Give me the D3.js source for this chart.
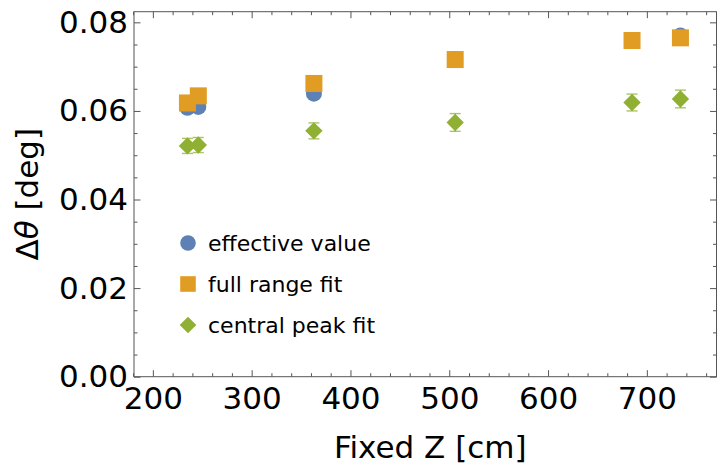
<!DOCTYPE html>
<html>
<head>
<meta charset="utf-8">
<script src="https://cdn.jsdelivr.net/npm/d3@7"></script>
<style>
  body { margin: 0; background: #fff; }
  text { font-family: "DejaVu Sans", sans-serif; }
</style>
</head>
<body>
<svg id="chart" width="717" height="470"></svg>
<script>
// fixed Z positions [cm]
var zValues = [235, 246, 363, 506, 685, 734];

// delta theta [deg] per method
var effectiveValue = [0.0607, 0.0609, 0.0639, 0.0717, 0.0760, 0.0770];
var fullRangeFit   = [0.0618, 0.0634, 0.0662, 0.0716, 0.0759, 0.0765];
var centralPeakFit = [0.0521, 0.0523, 0.0555, 0.0574, 0.0619, 0.0627];
var centralPeakErr = [0.0017, 0.0017, 0.0018, 0.0020, 0.0019, 0.0020];

var xTicks = [200, 300, 400, 500, 600, 700];
var yTicks = [0, 0.02, 0.04, 0.06, 0.08];
var legendLabels = ["effective value", "full range fit", "central peak fit"];

var blue = "#5E81B5", orange = "#E19C24", green = "#8FB032";

var margin = {top: 11.7, right: 0.5, bottom: 93.3, left: 134},
    W = 717, H = 470,
    w = W - margin.left - margin.right,
    h = H - margin.top - margin.bottom;

var x = d3.scaleLinear().domain([180.9, 770.5]).range([0, w]);
var y = d3.scaleLinear().domain([0, 0.0824]).range([h, 0]);

var svg = d3.select('#chart');
var g = svg.append('g')
    .attr('transform', 'translate(' + margin.left + ',' + margin.top + ')');

// minor ticks
var xMinor = d3.range(180, 771, 20).filter(function(d){ return d % 100 != 0; });
var yMinor = d3.range(0, 0.0826, 0.005).filter(function(d,i){ return i % 4 != 0; });

function styleAxis(sel){
  sel.select('.domain').remove();
  sel.selectAll('line').attr('stroke', '#555');
  sel.selectAll('text').attr('fill', '#000').attr('font-size', '31px')
     .attr('font-family', '"DejaVu Sans", sans-serif');
}

// bottom
g.append('g').attr('transform', 'translate(0,' + h + ')')
  .call(d3.axisBottom(x).tickValues(xTicks).tickSize(-6.5).tickPadding(10).tickFormat(d3.format('d')))
  .call(styleAxis);
g.append('g').attr('transform', 'translate(0,' + h + ')')
  .call(d3.axisBottom(x).tickValues(xMinor).tickSize(-3.5).tickFormat(''))
  .call(styleAxis);
// top
g.append('g')
  .call(d3.axisTop(x).tickValues(xTicks).tickSize(-6.5).tickFormat(''))
  .call(styleAxis);
g.append('g')
  .call(d3.axisTop(x).tickValues(xMinor).tickSize(-3.5).tickFormat(''))
  .call(styleAxis);
// left
g.append('g')
  .call(d3.axisLeft(y).tickValues(yTicks).tickSize(-6.5).tickPadding(6).tickFormat(d3.format('.2f')))
  .call(styleAxis);
g.append('g')
  .call(d3.axisLeft(y).tickValues(yMinor).tickSize(-3.5).tickFormat(''))
  .call(styleAxis);
// right
g.append('g').attr('transform', 'translate(' + w + ',0)')
  .call(d3.axisRight(y).tickValues(yTicks).tickSize(-6.5).tickFormat(''))
  .call(styleAxis);
g.append('g').attr('transform', 'translate(' + w + ',0)')
  .call(d3.axisRight(y).tickValues(yMinor).tickSize(-3.5).tickFormat(''))
  .call(styleAxis);

// frame
g.append('rect')
  .attr('x', 0).attr('y', 0).attr('width', w).attr('height', h)
  .attr('fill', 'none').attr('stroke', '#555').attr('stroke-width', 1);

// effective value (circles)
g.append('g').selectAll('circle')
  .data(zValues)
  .enter()
  .append('circle')
  .attr('cx', function(d){ return x(d); })
  .attr('cy', function(d,i){ return y(effectiveValue[i]); })
  .attr('r', 8)
  .attr('fill', blue);

// full range fit (squares)
var sq = 17;
g.append('g').selectAll('rect')
  .data(zValues)
  .enter()
  .append('rect')
  .attr('x', function(d){ return x(d) - sq/2; })
  .attr('y', function(d,i){ return y(fullRangeFit[i]) - sq/2; })
  .attr('width', sq).attr('height', sq)
  .attr('fill', orange);

// central peak fit error bars
var eb = g.append('g').attr('stroke', green).attr('stroke-opacity', 0.75).attr('stroke-width', 1.4);
zValues.forEach(function(d,i){
  var cx = x(d),
      y0 = y(centralPeakFit[i] - centralPeakErr[i]),
      y1 = y(centralPeakFit[i] + centralPeakErr[i]);
  eb.append('line').attr('x1', cx).attr('x2', cx).attr('y1', y0).attr('y2', y1);
  eb.append('line').attr('x1', cx - 5.5).attr('x2', cx + 5.5).attr('y1', y0).attr('y2', y0);
  eb.append('line').attr('x1', cx - 5.5).attr('x2', cx + 5.5).attr('y1', y1).attr('y2', y1);
});

// central peak fit (diamonds)
function diamond(r){ return 'M0,' + (-r) + 'L' + r + ',0L0,' + r + 'L' + (-r) + ',0Z'; }
g.append('g').selectAll('path')
  .data(zValues)
  .enter()
  .append('path')
  .attr('d', diamond(8.7))
  .attr('transform', function(d,i){ return 'translate(' + x(d) + ',' + y(centralPeakFit[i]) + ')'; })
  .attr('fill', green);

// legend
var legend = svg.append('g').attr('transform', 'translate(188,243)');
var rows = legend.selectAll('g')
  .data(legendLabels)
  .enter()
  .append('g')
  .attr('transform', function(d,i){ return 'translate(0,' + (i*41) + ')'; });
rows.filter(function(d,i){ return i == 0; }).append('circle').attr('r', 7.8).attr('fill', blue);
rows.filter(function(d,i){ return i == 1; }).append('rect')
  .attr('x', -7.8).attr('y', -7.8).attr('width', 15.6).attr('height', 15.6).attr('fill', orange);
rows.filter(function(d,i){ return i == 2; }).append('path').attr('d', diamond(8.3)).attr('fill', green);
rows.append('text')
  .attr('x', 20)
  .attr('dy', '0.36em')
  .attr('font-size', '22px')
  .attr('fill', '#000')
  .text(function(d){ return d; });

// axis titles
svg.append('text')
  .attr('x', margin.left + w/2 + 5)
  .attr('y', 458)
  .attr('text-anchor', 'middle')
  .attr('font-size', '31px')
  .text('Fixed Z [cm]');

var yt = svg.append('text')
  .attr('transform', 'translate(38,' + (margin.top + h/2) + ')rotate(-90)')
  .attr('text-anchor', 'middle')
  .attr('font-size', '31px');
yt.append('tspan').text('\u0394');
yt.append('tspan').attr('font-style', 'italic').text('\u03b8');
yt.append('tspan').text(' [deg]');
</script>
</body>
</html>
